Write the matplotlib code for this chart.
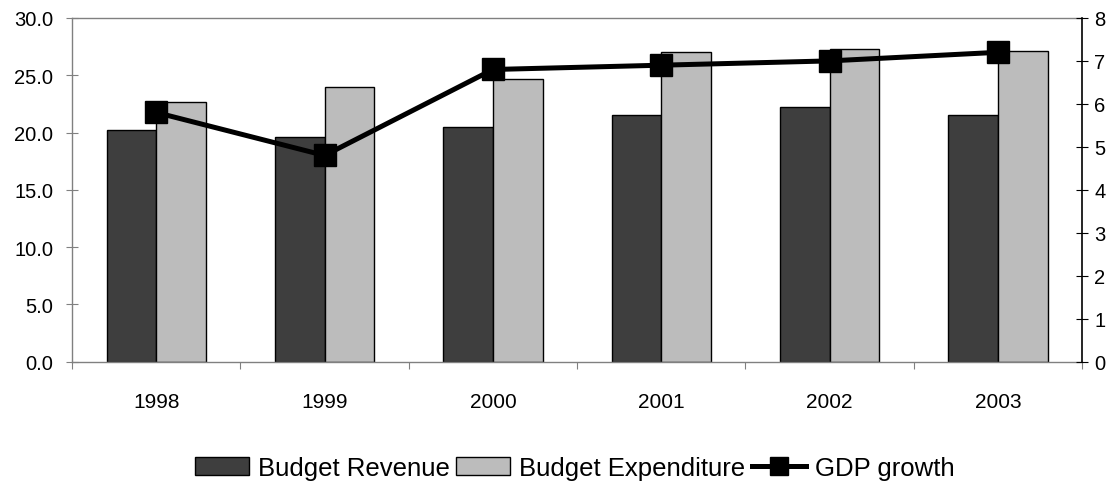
import numpy as np
import matplotlib
matplotlib.use("Agg")
import matplotlib.pyplot as plt
from matplotlib.lines import Line2D
from matplotlib.patches import Patch

years = ["1998", "1999", "2000", "2001", "2002", "2003"]
revenue = [20.2, 19.6, 20.5, 21.5, 22.2, 21.5]
expenditure = [22.7, 24.0, 24.7, 27.0, 27.3, 27.1]
gdp_growth = [5.8, 4.8, 6.8, 6.9, 7.0, 7.2]

plt.rcParams['font.family'] = ['Liberation Sans', 'DejaVu Sans']

rev_col = "#3e3e3e"
exp_col = "#bcbcbc"
frame_col = "#808080"

fig = plt.figure(figsize=(11.18, 4.85), dpi=100)
ax = fig.add_axes([0.0644, 0.252, 0.9036, 0.709])

x = np.arange(len(years))
w = 0.295
ax.bar(x - w / 2, revenue, w, color=rev_col, edgecolor="black", linewidth=1.0, zorder=2)
ax.bar(x + w / 2, expenditure, w, color=exp_col, edgecolor="black", linewidth=1.0, zorder=2)

ax.set_xlim(-0.5, len(years) - 0.5)
ax.set_ylim(0, 30)
ax.set_yticks(np.arange(0, 31, 5))
ax.set_yticklabels([f"{v:.1f}" for v in np.arange(0, 31, 5)], fontsize=14.5)
ax.tick_params(axis="y", direction="inout", length=9, width=0.8, color=frame_col, pad=9)

ax.set_xticks(x)
ax.set_xticklabels(years, fontsize=15)
ax.tick_params(axis="x", length=0, pad=22)
ax.set_xticks(np.arange(-0.5, len(years)), minor=True)
ax.tick_params(axis="x", which="minor", direction="out", length=5, width=0.8, color=frame_col)

for s in ["left", "top", "bottom"]:
    ax.spines[s].set_color(frame_col)
    ax.spines[s].set_linewidth(1.0)
ax.spines["right"].set_visible(False)

ax2 = ax.twinx()
ax2.plot(x, gdp_growth, color="black", linewidth=3.6, marker="s", markersize=16, zorder=3)
ax2.set_ylim(0, 8)
ax2.set_yticks(range(0, 9))
ax2.tick_params(axis="y", direction="inout", length=9, width=0.8, color="black", labelsize=14.5, pad=4)
for s in ["left", "top", "bottom"]:
    ax2.spines[s].set_visible(False)
ax2.spines["right"].set_color("black")
ax2.spines["right"].set_linewidth(1.2)

handles = [
    Patch(facecolor=rev_col, edgecolor="black", linewidth=1.0),
    Patch(facecolor=exp_col, edgecolor="black", linewidth=1.0),
    Line2D([], [], color="black", linewidth=3.6, marker="s", markersize=13),
]
labels = ["Budget Revenue", "Budget Expenditure", "GDP growth"]
fig.legend(handles, labels, loc="center", bbox_to_anchor=(0.514, 0.033), ncol=3,
           frameon=False, handlelength=2.1, handletextpad=0.35, columnspacing=0.25,
           prop={"size": 18.5})

fig.savefig("out.png", dpi=100)
